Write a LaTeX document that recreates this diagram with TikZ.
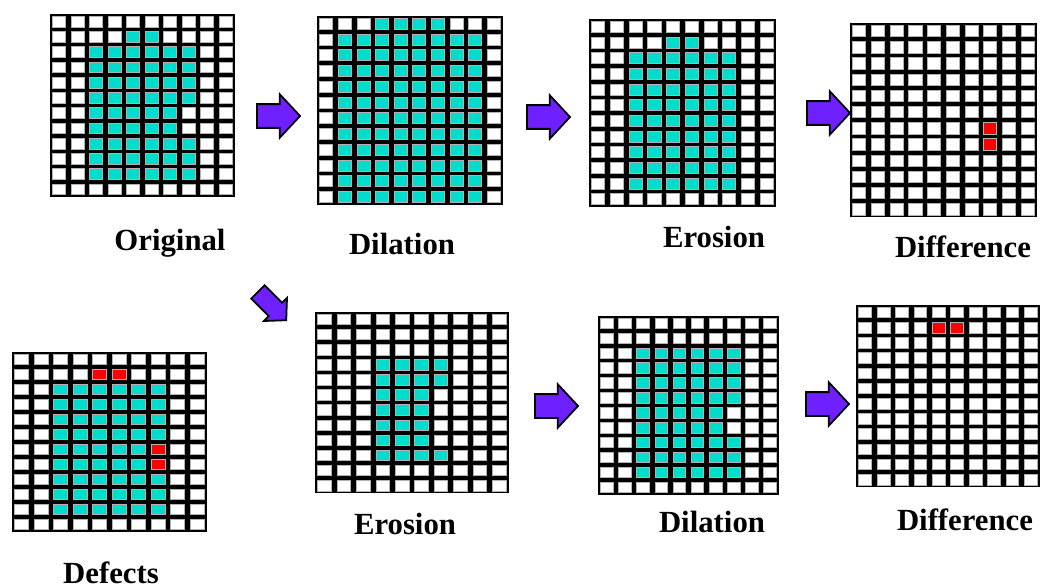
\documentclass[tikz,border=0pt]{standalone}
\usepackage{fontspec}
\setmainfont{Liberation Serif}
\usetikzlibrary{shapes.arrows}
\definecolor{cellcyan}{RGB}{0,221,204}
\definecolor{arrowviolet}{RGB}{110,32,255}

% board: x0, y0, xscale, yscale, coloured cells as row/first/last/colour
\newcommand{\board}[5]{%
  \begin{scope}[shift={(#1,#2)}, xscale=#3, yscale=#4]
    \fill[black] (0,0) rectangle (10,12);
    \foreach \r in {0,...,11}
      \foreach \c in {0,...,9}
        \draw[cell] (\c+0.15,\r+0.15) rectangle (\c+0.85,\r+0.85);
    \foreach \r/\a/\b/\col in {#5}
      \foreach \c in {\a,...,\b}
        \draw[cell, fill=\col] (\c+0.15,\r+0.15) rectangle (\c+0.85,\r+0.85);
  \end{scope}}

\begin{document}
\begin{tikzpicture}[x=0.02cm, y=-0.02cm,
cell/.style={draw=gray!60, line width=0.5pt, fill=white},
label/.style={font=\fontsize{17.5}{20}\selectfont\bfseries, anchor=base, inner sep=0pt},
bigarrow/.style={single arrow, draw=black, fill=arrowviolet, line width=1pt,
  inner xsep=0pt, inner ysep=0.22cm, minimum height=0.86cm, single arrow head extend=0.2cm,
  single arrow tip angle=94}]
\useasboundingbox (0,0) rectangle (1041,588);

% top row
\board{50}{14}{18.5}{15.25}{1/4/5/cellcyan, 2/2/7/cellcyan, 3/2/7/cellcyan, 4/2/7/cellcyan,
  5/2/7/cellcyan, 6/2/6/cellcyan, 7/2/6/cellcyan, 8/2/7/cellcyan, 9/2/7/cellcyan, 10/2/7/cellcyan}
\board{317}{16}{18.6}{15.75}{0/3/6/cellcyan, 1/1/8/cellcyan, 2/1/8/cellcyan, 3/1/8/cellcyan,
  4/1/8/cellcyan, 5/1/8/cellcyan, 6/1/8/cellcyan, 7/1/8/cellcyan, 8/1/8/cellcyan, 9/1/8/cellcyan,
  10/1/8/cellcyan, 11/1/8/cellcyan}
\board{589}{19}{18.7}{15.67}{1/4/5/cellcyan, 2/2/7/cellcyan, 3/2/7/cellcyan, 4/2/7/cellcyan,
  5/2/7/cellcyan, 6/2/7/cellcyan, 7/2/7/cellcyan, 8/2/7/cellcyan, 9/2/7/cellcyan, 10/2/7/cellcyan}
\board{850}{23}{18.7}{16.2}{6/7/7/red, 7/7/7/red}

% bottom row
\board{12}{352}{19.5}{15}{1/4/5/red, 2/2/7/cellcyan, 3/2/7/cellcyan, 4/2/7/cellcyan, 5/2/7/cellcyan,
  6/2/6/cellcyan, 6/7/7/red, 7/2/6/cellcyan, 7/7/7/red, 8/2/7/cellcyan, 9/2/7/cellcyan, 10/2/7/cellcyan}
\board{315}{312}{19.4}{15.1}{3/3/6/cellcyan, 4/3/6/cellcyan, 5/3/5/cellcyan, 6/3/5/cellcyan,
  7/3/5/cellcyan, 8/3/5/cellcyan, 9/3/6/cellcyan}
\board{598}{316}{18.1}{14.9}{2/2/7/cellcyan, 3/2/7/cellcyan, 4/2/7/cellcyan, 5/2/7/cellcyan,
  6/2/6/cellcyan, 7/2/6/cellcyan, 8/2/7/cellcyan, 9/2/7/cellcyan, 10/2/7/cellcyan}
\board{856}{305}{18.4}{15.2}{1/4/5/red}

% arrows
\node[bigarrow] (a1) at (273,116) {};
\node[bigarrow] (a2) at (543,117) {};
\node[bigarrow] (a3) at (823,113) {};
\node[bigarrow, rotate=-45, minimum height=0.8cm, inner ysep=0.17cm,
  single arrow head extend=0.14cm] (a4) at (269,303) {};
\node[bigarrow] (a5) at (551,406) {};
\node[bigarrow] (a6) at (822,404) {};

% labels
\node[label] (lorig) at (170,250) {Original};
\node[label] (ldil1) at (402,254) {Dilation};
\node[label] (lero1) at (714,247) {Erosion};
\node[label] (ldif1) at (963,257) {Difference};
\node[label] (ldef) at (111,583) {Defects};
\node[label] (lero2) at (405,534) {Erosion};
\node[label] (ldil2) at (712,532) {Dilation};
\node[label] (ldif2) at (965,530) {Difference};
\end{tikzpicture}
\end{document}
